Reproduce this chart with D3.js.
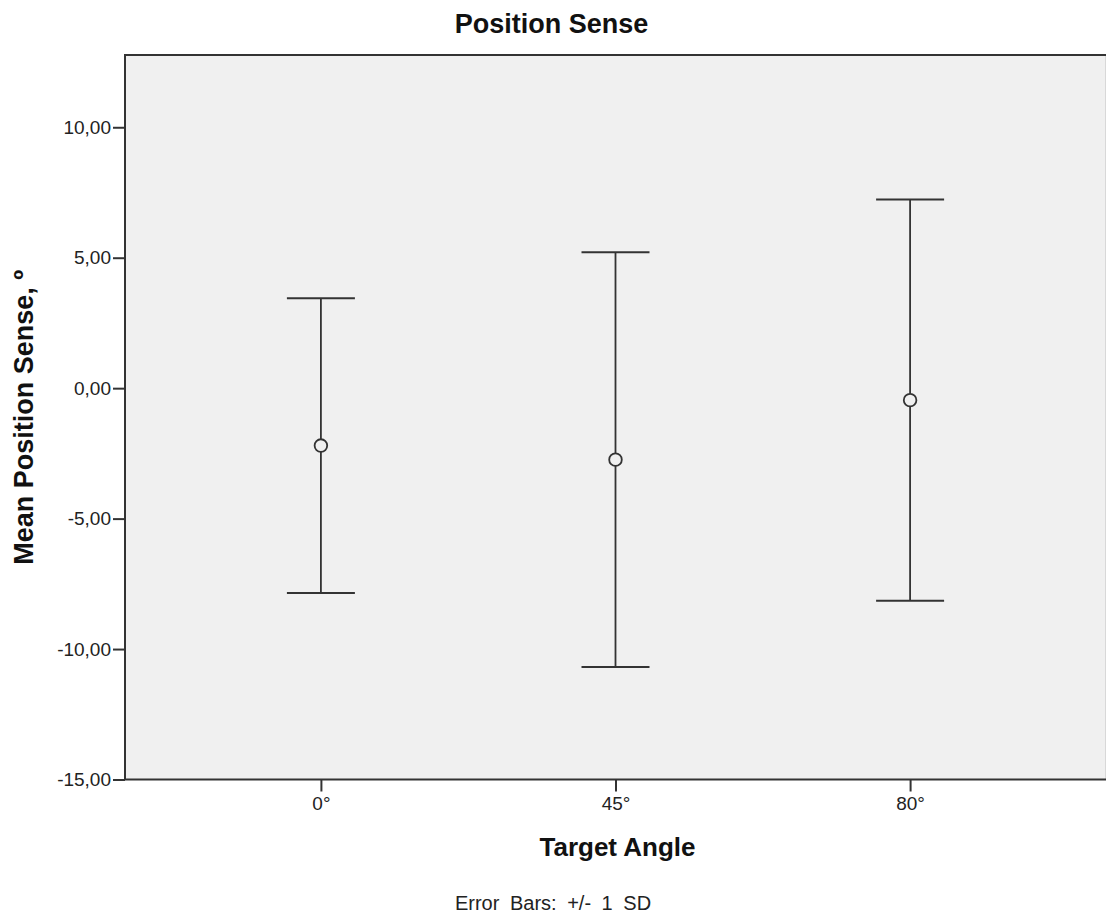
<!DOCTYPE html>
<html>
<head>
<meta charset="utf-8">
<script src="https://cdn.jsdelivr.net/npm/d3@7"></script>
<style>
  body { margin: 0; background: #fff; }
  svg { display: block; font-family: "Liberation Sans", Arial, sans-serif; }
</style>
</head>
<body>
<svg id="chart" width="1107" height="920"></svg>
<script>
// Target angles and mean position sense (± 1 SD)
const categories = ["0°", "45°", "80°"];
const means = [-2.20, -2.74, -0.46];
const sds = [5.65, 7.95, 7.69];
const yTicks = [10, 5, 0, -5, -10, -15];

const svg = d3.select("#chart");
const plotLeft = 125, plotRight = 1106, plotTop = 55, plotBottom = 779.5;

const x = d3.scalePoint().domain(categories).range([plotLeft, plotRight]).padding(0.665);
const y = d3.scaleLinear().domain([-15, 12.77]).range([plotBottom, plotTop]);
const fmt = v => d3.format(".2f")(v).replace(".", ",").replace("−", "-");

// plot background
svg.append("rect")
  .attr("x", plotLeft).attr("y", plotTop)
  .attr("width", plotRight - plotLeft).attr("height", plotBottom - plotTop)
  .attr("fill", "#f0f0f0");
svg.append("line").attr("x1", plotRight - 0.5).attr("x2", plotRight - 0.5)
  .attr("y1", plotTop).attr("y2", plotBottom).attr("stroke", "#d8d8d8").attr("stroke-width", 1);

// y axis
const yAxis = d3.axisLeft(y).tickValues(yTicks).tickFormat(fmt).tickSize(12).tickPadding(2);
const gy = svg.append("g").attr("transform", `translate(${plotLeft},0)`).call(yAxis);
gy.select(".domain").remove();
gy.selectAll(".tick line").attr("stroke", "#333").attr("stroke-width", 2);
gy.selectAll(".tick text").attr("fill", "#222").style("font-size", "19px")
  .style("font-family", "'Liberation Sans', Arial, sans-serif");

// x axis
const xAxis = d3.axisBottom(x).tickSize(12).tickPadding(5);
const gx = svg.append("g").attr("transform", `translate(0,${plotBottom})`).call(xAxis);
gx.select(".domain").remove();
gx.selectAll(".tick line").attr("stroke", "#333").attr("stroke-width", 2);
gx.selectAll(".tick text").attr("fill", "#222").style("font-size", "19px")
  .style("font-family", "'Liberation Sans', Arial, sans-serif");

// frame: left, top and bottom edges
svg.append("path")
  .attr("d", `M${plotLeft},${plotBottom}V${plotTop}H${plotRight}M${plotLeft},${plotBottom}H${plotRight}`)
  .attr("fill", "none").attr("stroke", "#333").attr("stroke-width", 2);

// error bars
const capHalf = 34;
const bars = svg.append("g").selectAll("g").data(categories).join("g");
bars.append("line")
  .attr("x1", d => x(d)).attr("x2", d => x(d))
  .attr("y1", (d, i) => y(means[i] + sds[i]))
  .attr("y2", (d, i) => y(means[i] - sds[i]))
  .attr("stroke", "#333").attr("stroke-width", 1.8);
bars.append("line")
  .attr("x1", d => x(d) - capHalf).attr("x2", d => x(d) + capHalf)
  .attr("y1", (d, i) => y(means[i] + sds[i]))
  .attr("y2", (d, i) => y(means[i] + sds[i]))
  .attr("stroke", "#333").attr("stroke-width", 2);
bars.append("line")
  .attr("x1", d => x(d) - capHalf).attr("x2", d => x(d) + capHalf)
  .attr("y1", (d, i) => y(means[i] - sds[i]))
  .attr("y2", (d, i) => y(means[i] - sds[i]))
  .attr("stroke", "#333").attr("stroke-width", 2);
bars.append("circle")
  .attr("cx", d => x(d)).attr("cy", (d, i) => y(means[i]))
  .attr("r", 6.3)
  .attr("fill", "#f0f0f0").attr("stroke", "#333").attr("stroke-width", 1.8);

// titles
svg.append("text").attr("x", 551.5).attr("y", 33).attr("text-anchor", "middle")
  .style("font-size", "27px").style("font-weight", "bold").attr("fill", "#111")
  .text("Position Sense");
svg.append("text").attr("x", 617.5).attr("y", 856).attr("text-anchor", "middle")
  .style("font-size", "26px").style("font-weight", "bold").attr("fill", "#111")
  .text("Target Angle");
svg.append("text")
  .attr("transform", `translate(33,${(plotTop + plotBottom) / 2}) rotate(-90)`)
  .attr("text-anchor", "middle")
  .style("font-size", "27px").style("font-weight", "bold").attr("fill", "#111")
  .text("Mean Position Sense, º");
svg.append("text").attr("x", 553).attr("y", 910).attr("text-anchor", "middle")
  .style("font-size", "20px").style("word-spacing", "5px").attr("fill", "#222")
  .text("Error Bars: +/- 1 SD");
</script>
</body>
</html>
